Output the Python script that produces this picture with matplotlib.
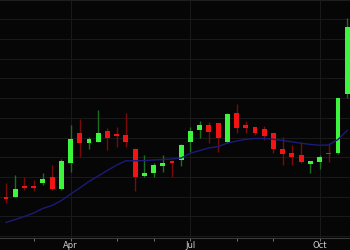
import matplotlib
matplotlib.use("Agg")
import matplotlib.pyplot as plt
import numpy as np
import pandas as pd

# Weekly candles
weeks = pd.date_range("2019-02-11", periods=38, freq="7D")
opens = [12.00, 11.98, 12.51, 12.51, 12.68, 13.01, 12.37, 13.69, 15.24, 14.71,
         14.79, 15.33, 15.14, 15.13, 14.42, 13.06, 13.18, 13.57, 13.82, 13.87,
         14.79, 15.38, 15.62, 15.72, 14.79, 16.23, 15.62, 15.52, 15.43, 15.21,
         14.42, 14.23, 14.13, 13.67, 13.77, 14.23, 14.20, 17.19]
highs = [12.68, 13.10, 13.00, 12.82, 13.21, 13.60, 13.89, 15.63, 15.92, 15.04,
         16.40, 15.50, 15.52, 16.23, 14.45, 14.11, 13.72, 14.11, 13.86, 14.65,
         15.52, 15.85, 15.80, 15.76, 16.23, 16.72, 15.82, 15.55, 15.58, 15.23,
         15.01, 14.62, 14.79, 13.82, 14.10, 14.71, 17.02, 21.05]
lows = [11.69, 11.96, 12.35, 12.28, 12.59, 12.34, 12.34, 13.26, 14.03, 14.40,
        14.78, 14.37, 14.52, 14.53, 12.30, 13.01, 12.98, 13.26, 12.98, 13.57,
        14.26, 14.99, 14.71, 14.28, 14.71, 15.24, 15.23, 15.13, 14.87, 14.20,
        13.60, 13.60, 13.71, 13.18, 13.39, 13.77, 14.18, 16.99]
closes = [11.86, 12.41, 12.46, 12.46, 12.92, 12.39, 13.81, 14.91, 14.71, 14.92,
          15.24, 14.99, 15.11, 14.79, 12.98, 13.21, 13.60, 13.72, 13.69, 14.62,
          15.33, 15.63, 15.29, 14.99, 16.21, 15.50, 15.49, 15.21, 15.08, 14.40,
          14.18, 14.01, 13.77, 13.81, 14.03, 14.16, 16.99, 20.62]
mav = [10.69, 10.84, 10.99, 11.17, 11.40, 11.55, 11.80, 12.13, 12.44, 12.77,
       13.05, 13.33, 13.60, 13.82, 13.82, 13.83, 13.86, 13.88, 13.91, 13.96,
       14.20, 14.34, 14.47, 14.54, 14.72, 14.82, 14.91, 14.95, 14.95, 14.91,
       14.85, 14.78, 14.71, 14.65, 14.61, 14.62, 14.90, 15.36]

BG = "#060606"
UP, UP_WICK = "#3ef53e", "#1c6e1c"
DN, DN_WICK = "#f01414", "#7a0a0a"
GRID = "#1a1a1a"

fig = plt.figure(figsize=(3.5, 2.5), dpi=100, facecolor=BG)
ax = fig.add_axes([0, 0.048, 1, 0.952])
ax.set_facecolor(BG)

x = np.arange(len(weeks))
o = np.array(opens); h = np.array(highs); l = np.array(lows); c = np.array(closes)
up = c >= o
width = 0.52

for xi, oi, hi, li, ci, u in zip(x, o, h, l, c, up):
    ax.vlines(xi, li, hi, color=UP_WICK if u else DN_WICK, linewidth=1.0, zorder=2)
    body = abs(ci - oi)
    if body > 0.06:
        bottom, height = min(oi, ci), body
    else:
        bottom, height = (oi + ci) / 2 - 0.03, 0.06
    ax.bar(xi, height, width=width, bottom=bottom,
           color=UP if u else DN, linewidth=0, zorder=3)

ax.plot(x, mav, color="#1b1b78", linewidth=1.0, zorder=4)

ax.set_xlim(-0.65, 37.3)
ax.set_ylim(9.90, 21.98)

# ticks: first candle of each month; labelled quarter months
months = weeks.month
first = [i for i in range(len(weeks)) if i > 0 and months[i] != months[i - 1]]
major = [i for i in first if months[i] in (1, 4, 7, 10)]
minor = [i for i in first if i not in major]
ax.set_xticks(major)
ax.set_xticklabels([weeks[i].strftime("%b") for i in major])
ax.set_xticks(minor, minor=True)
ax.set_yticks(np.arange(10, 22, 1))
ax.tick_params(axis="y", left=False, labelleft=False)
ax.tick_params(axis="x", which="both", colors="#8a8a8a", length=2.5, width=0.6,
               labelsize=6, labelcolor="#cfcfcf", pad=0)
ax.grid(True, which="major", color=GRID, linewidth=0.7)
ax.set_axisbelow(True)
for side in ("left", "right"):
    ax.spines[side].set_visible(False)
ax.spines["bottom"].set_color("#3a3a3a")
ax.spines["top"].set_color("#1e1e1e")

fig.savefig("out.png", dpi=100, facecolor=BG)
